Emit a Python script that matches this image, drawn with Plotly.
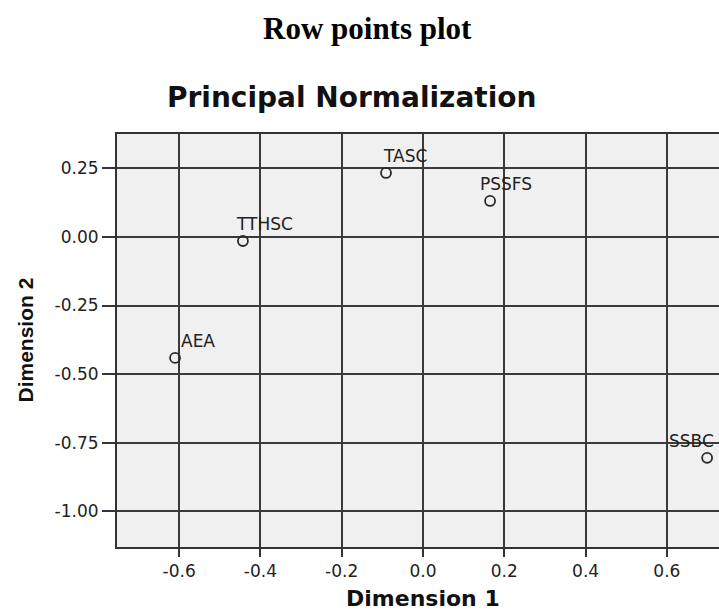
"""
Row points plot - correspondence analysis, principal normalization.
"""
import plotly.graph_objects as go

# --- data ---
row_labels = ["TASC", "PSSFS", "TTHSC", "AEA", "SSBC"]
dim1 = [-0.091, 0.165, -0.443, -0.610, 0.699]
dim2 = [0.233, 0.131, -0.015, -0.441, -0.805]

x_ticks = [-0.6, -0.4, -0.2, 0.0, 0.2, 0.4, 0.6]
x_tick_text = ["-0.6", "-0.4", "-0.2", "0.0", "0.2", "0.4", "0.6"]
y_ticks = [0.25, 0.0, -0.25, -0.50, -0.75, -1.00]
y_tick_text = ["0.25", "0.00", "-0.25", "-0.50", "-0.75", "-1.00"]

# label placement (pixels, relative to the point)
label_dx = [-5, -12, -9, 4, -40]
label_dy = 17

W, H = 719, 610
M_L, M_R, M_T, M_B = 117, 0, 134, 610 - 547
PW = W - M_L - M_R
GRID = "#3a3a3a"
TXT = "#222222"

fig = go.Figure()
fig.add_trace(go.Scatter(
    x=dim1, y=dim2, mode="markers",
    marker=dict(symbol="circle-open", size=10, color="#2a2a2a", line=dict(width=1.8)),
    hoverinfo="text", text=row_labels, showlegend=False,
))

for lab, x, y, dx in zip(row_labels, dim1, dim2, label_dx):
    fig.add_annotation(x=x, y=y, text=lab, showarrow=False, xanchor="left", yanchor="middle",
                       xshift=dx, yshift=label_dy,
                       font=dict(family="DejaVu Sans", size=17, color=TXT))

axis_common = dict(
    showgrid=True, gridcolor=GRID, gridwidth=2, zeroline=False,
    showline=True, linecolor="#333333", linewidth=2,
    ticks="outside", tickwidth=2, tickcolor="#333333",
    tickfont=dict(family="DejaVu Sans", size=17, color=TXT),
)
fig.update_xaxes(range=[-0.7528, 0.7282], tickvals=x_ticks, ticktext=x_tick_text,
                 mirror=True, ticklen=8, **axis_common)
fig.update_yaxes(range=[-1.13, 0.375], tickvals=y_ticks, ticktext=y_tick_text,
                 mirror=False, ticklen=13, **axis_common)

# titles (positions given in page pixels of the reference)
fig.add_annotation(text="<b>Row points plot</b>", xref="paper", yref="paper",
                   x=(367 - M_L) / PW, y=1, yshift=M_T - 28,
                   xanchor="center", yanchor="middle", showarrow=False,
                   font=dict(family="Liberation Serif", size=31, color="black"))
fig.add_annotation(text="<b>Principal Normalization</b>", xref="paper", yref="paper",
                   x=(351 - M_L) / PW, y=1, yshift=M_T - 97,
                   xanchor="center", yanchor="middle", showarrow=False,
                   font=dict(family="DejaVu Sans", size=28, color="#111111"))
fig.add_annotation(text="<b>Dimension 1</b>", xref="x", yref="paper",
                   x=0.0, y=0, yshift=-(598 - 547),
                   xanchor="center", yanchor="middle", showarrow=False,
                   font=dict(family="DejaVu Sans", size=22, color="#111111"))
fig.add_annotation(text="<b>Dimension 2</b>", xref="paper", yref="paper",
                   x=(25 - M_L) / PW, y=0.5, textangle=-90,
                   xanchor="center", yanchor="middle", showarrow=False,
                   font=dict(family="Liberation Sans", size=21, color="#111111"))

fig.update_layout(
    width=W, height=H,
    margin=dict(l=M_L, r=M_R, t=M_T, b=M_B),
    plot_bgcolor="#f0f0f0", paper_bgcolor="white",
)

# drop the default page margin so the figure fills the window exactly
fig.write_html("out.html", config={"displayModeBar": False},
               post_script="document.body.style.margin='0px';document.body.style.overflow='hidden';")
